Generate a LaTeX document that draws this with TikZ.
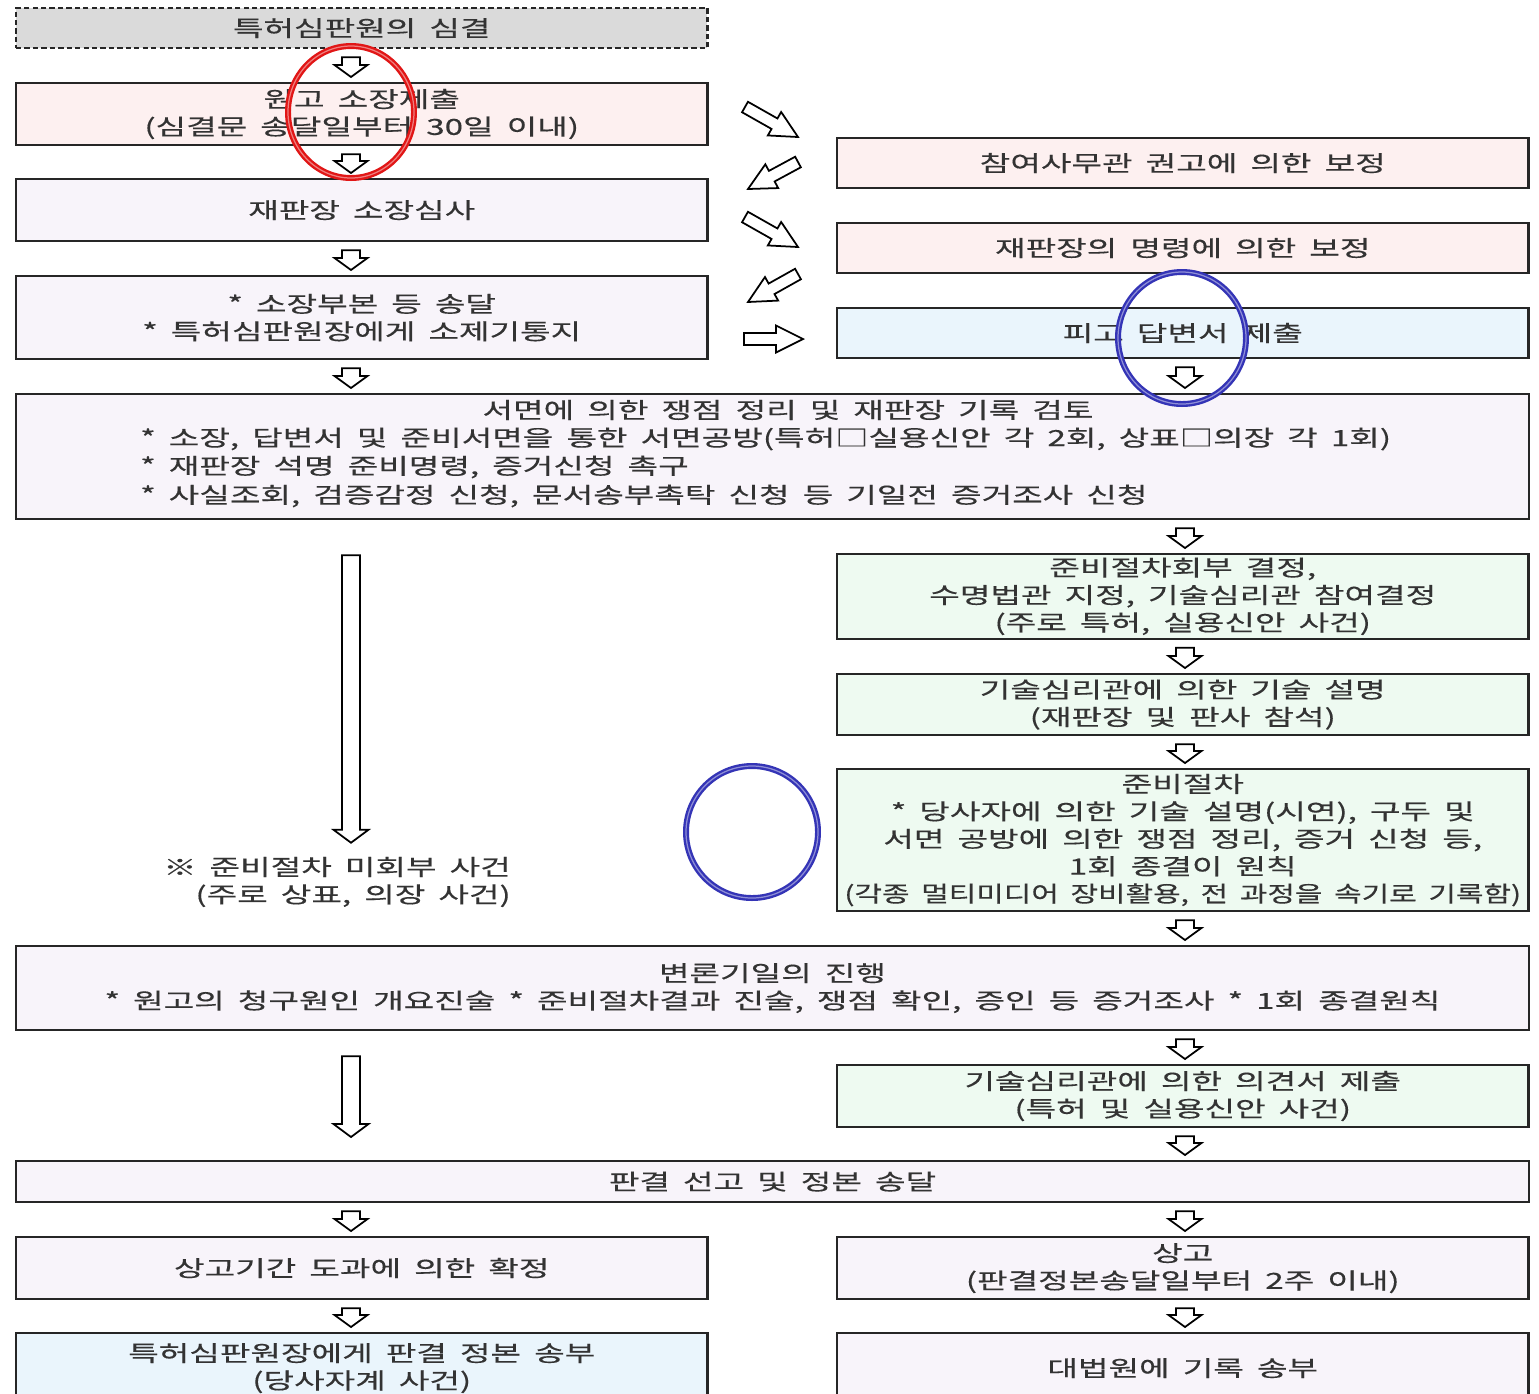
\documentclass[tikz,border=0pt]{standalone}
\usepackage{graphicx}
\usepackage{fontspec}
\setmainfont{Noto Sans CJK KR}[FakeStretch=1.5,WordSpace=1.75,FakeBold=0.35]
\usetikzlibrary{calc}
\definecolor{grayfill}{RGB}{218,218,218}
\definecolor{pinkfill}{RGB}{253,240,240}
\definecolor{lilacfill}{RGB}{248,244,250}
\definecolor{bluefill}{RGB}{234,245,252}
\definecolor{greenfill}{RGB}{238,250,241}
\definecolor{ringred}{RGB}{225,22,22}
\definecolor{ringblue}{RGB}{52,52,182}
\tikzset{
  txt/.style={text=black!80, font=\fontsize{6.3}{7.8}\selectfont},
  box/.style={txt, draw=black!85, line width=0.6pt, anchor=north west, inner sep=1pt, align=center},
  half/.style={box, minimum width=6.91cm},
  full/.style={box, minimum width=15.12cm},
  lbl/.style={txt, inner sep=1pt},
  blockline/.style={draw=black, fill=white, line width=0.5pt, line join=miter},
  ring/.style={draw=#1, line width=1.7pt},
  sheen/.style={draw=white, opacity=0.45, line width=0.35pt}
}
% hollow block arrow: shaft half, head half, head length, tail, tip
\newcommand\blockarrow[5]{%
  \coordinate (hb) at ($(#5)!#3!(#4)$);
  \draw[blockline] ($(#4)!#1!90:(#5)$) -- ($(hb)!#1!90:(#5)$) -- ($(hb)!#2!90:(#5)$) -- (#5)
    -- ($(hb)!#2!-90:(#5)$) -- ($(hb)!#1!-90:(#5)$) -- ($(#4)!#1!-90:(#5)$) -- cycle;}
% small down arrow between two boxes in a column
\newcommand\nextarrow[3]{%
  \coordinate (t) at ($(#1.south -| #3)+(0,8)$);
  \coordinate (h) at ($(#2.north -| #3)+(0,-5)$);
  \blockarrow{0.09cm}{0.165cm}{0.12cm}{t}{h}}
\begin{document}
\begin{tikzpicture}[x=0.01cm, y=-0.01cm]
  \fill[white] (0,0) rectangle (1539,1393);
  \useasboundingbox (0,0) rectangle (1539,1393);
  \coordinate (L) at (351,0);
  \coordinate (R) at (1185,0);
  % left column
  \node[half, fill=grayfill, dash pattern=on 1.5pt off 0.9pt, minimum height=0.40cm] (b1) at (15,7) {특허심판원의 심결};
  \node[half, fill=pinkfill, minimum height=0.62cm] (b2) at (15,82) {원고 소장제출\\(심결문 송달일부터 30일 이내)};
  \node[half, fill=lilacfill, minimum height=0.62cm] (b3) at (15,178) {재판장 소장심사};
  \node[half, fill=lilacfill, minimum height=0.83cm] (b4) at (15,275) {* 소장부본 등 송달\\* 특허심판원장에게 소제기통지};
  % right column
  \node[half, fill=pinkfill, minimum height=0.50cm] (r1) at (836,137) {참여사무관 권고에 의한 보정};
  \node[half, fill=pinkfill, minimum height=0.50cm] (r2) at (836,222) {재판장의 명령에 의한 보정};
  \node[half, fill=bluefill, minimum height=0.50cm] (r3) at (836,307) {피고 답변서 제출};
  % written pleadings
  \node[full, fill=lilacfill, minimum height=1.25cm] (b5) at (15,393) {};
  \node[lbl] (b5t) at (788,410) {서면에 의한 쟁점 정리 및 재판장 기록 검토};
  \node[lbl, anchor=west] (b5a) at (136,439) {* 소장, 답변서 및 준비서면을 통한 서면공방(특허□실용신안 각 2회, 상표□의장 각 1회)};
  \node[lbl, anchor=west] (b5b) at (136,467) {* 재판장 석명 준비명령, 증거신청 촉구};
  \node[lbl, anchor=west] (b5c) at (136,496) {* 사실조회, 검증감정 신청, 문서송부촉탁 신청 등 기일전 증거조사 신청};
  % preparatory procedure
  \node[half, fill=greenfill, minimum height=0.84cm] (r4) at (836,553) {준비절차회부 결정,\\수명법관 지정, 기술심리관 참여결정\\(주로 특허, 실용신안 사건)};
  \node[half, fill=greenfill, minimum height=0.61cm] (r5) at (836,673) {기술심리관에 의한 기술 설명\\(재판장 및 판사 참석)};
  \node[half, fill=greenfill, minimum height=1.42cm] (r6) at (836,768) {준비절차\\* 당사자에 의한 기술 설명(시연), 구두 및\\서면 공방에 의한 쟁점 정리, 증거 신청 등,\\1회 종결이 원칙\\\makebox[6.8cm][c]{\scalebox{0.9}[1]{(각종 멀티미디어 장비활용, 전 과정을 속기로 기록함)}}};
  \node[lbl, align=right, anchor=east] (note) at (515,882) {※ 준비절차 미회부 사건\\(주로 상표, 의장 사건)};
  % hearing and judgment
  \node[full, fill=lilacfill, minimum height=0.84cm] (b6) at (15,945) {변론기일의 진행\\* 원고의 청구원인 개요진술 * 준비절차결과 진술, 쟁점 확인, 증인 등 증거조사 * 1회 종결원칙};
  \node[half, fill=greenfill, minimum height=0.62cm] (r7) at (836,1064) {기술심리관에 의한 의견서 제출\\(특허 및 실용신안 사건)};
  \node[full, fill=lilacfill, minimum height=0.41cm] (b7) at (15,1160) {판결 선고 및 정본 송달};
  \node[half, fill=lilacfill, minimum height=0.62cm] (b8) at (15,1236) {상고기간 도과에 의한 확정};
  \node[half, fill=lilacfill, minimum height=0.62cm] (r8) at (836,1236) {상고\\(판결정본송달일부터 2주 이내)};
  \node[half, fill=bluefill, minimum height=0.70cm] (b9) at (15,1332) {특허심판원장에게 판결 정본 송부\\(당사자계 사건)};
  \node[half, fill=lilacfill, minimum height=0.70cm] (r9) at (836,1332) {대법원에 기록 송부};
  % arrows
  \nextarrow{b1}{b2}{L} \nextarrow{b2}{b3}{L} \nextarrow{b3}{b4}{L} \nextarrow{b4}{b5}{L}
  \nextarrow{r3}{b5}{R} \nextarrow{b5}{r4}{R} \nextarrow{r4}{r5}{R} \nextarrow{r5}{r6}{R}
  \nextarrow{r6}{b6}{R} \nextarrow{b6}{r7}{R} \nextarrow{r7}{b7}{R}
  \nextarrow{b7}{b8}{L} \nextarrow{b7}{r8}{R} \nextarrow{b8}{b9}{L} \nextarrow{r8}{r9}{R}
  \coordinate (n1) at ($(b5.south -| L)+(0,35)$);
  \coordinate (n2) at ($(note.north -| L)+(0,-10)$);
  \blockarrow{0.09cm}{0.175cm}{0.13cm}{n1}{n2}
  \coordinate (m1) at ($(b6.south -| L)+(0,25)$);
  \coordinate (m2) at ($(b7.north -| L)+(0,-23)$);
  \blockarrow{0.09cm}{0.175cm}{0.13cm}{m1}{m2}
  % between the columns
  \coordinate (d1a) at (745,107); \coordinate (d1b) at (798,137);
  \coordinate (d2a) at (798,162); \coordinate (d2b) at (748,189);
  \coordinate (d3a) at (745,217); \coordinate (d3b) at (798,247);
  \coordinate (d4a) at (798,274); \coordinate (d4b) at (748,302);
  \coordinate (d5a) at (744,339); \coordinate (d5b) at (803,339);
  \foreach \d in {d1,d2,d3,d4,d5}
    {\blockarrow{0.06cm}{0.135cm}{0.27cm}{\d a}{\d b}}
  % rings drawn over the chart
  \foreach \c/\rx/\ry/\col in {{(351,112)}/63/66/ringred, {(1182,338)}/64/66/ringblue, {(752,832)}/66/66/ringblue}{
    \draw[ring=\col] \c ellipse [x radius=\rx, y radius=\ry];
    \draw[sheen] \c ellipse [x radius=\rx, y radius=\ry];
  }
\end{tikzpicture}
\end{document}
